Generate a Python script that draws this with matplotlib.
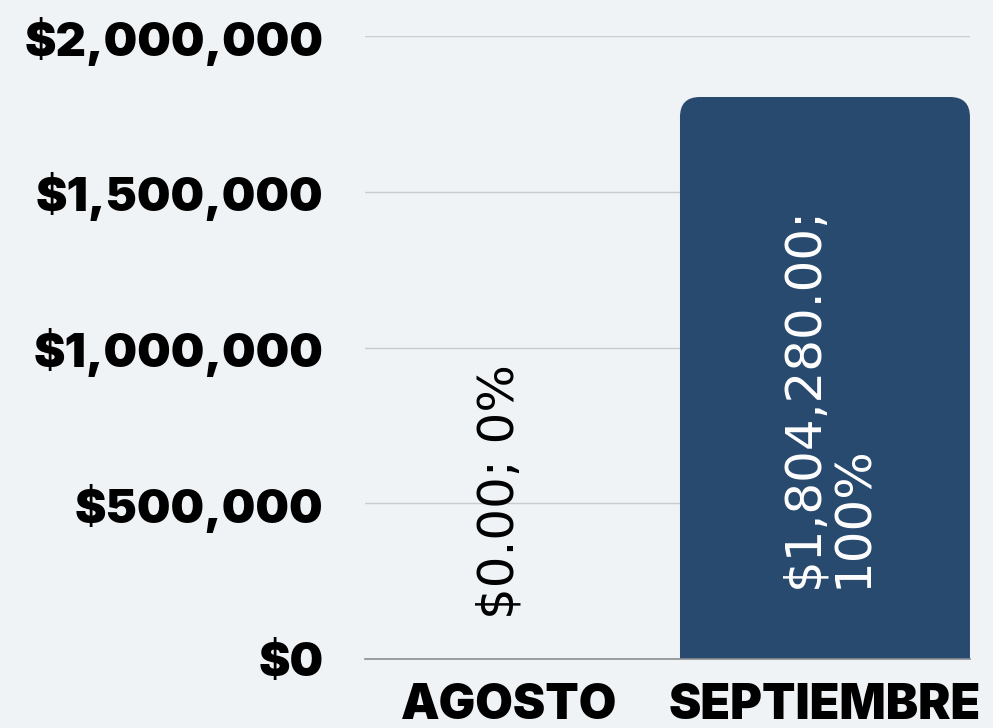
import numpy as np
import matplotlib.pyplot as plt
from matplotlib.patches import FancyBboxPatch
from matplotlib.ticker import FuncFormatter

# ------------------------------
# Data
months = ["AGOSTO", "SEPTIEMBRE"]
amounts = [0.00, 1804280.00]
shares = [0, 100]
yticks = [0, 500000, 1000000, 1500000, 2000000]

bg = "#eff3f5"
bar_color = "#284a6f"

# ------------------------------
# Figure
fig = plt.figure(figsize=(9.93, 7.28), dpi=100, facecolor=bg)
ax = fig.add_axes([0.3676, 0.0948, 0.6092, 0.8557], facecolor=bg)

ax.set_xlim(-0.456, 1.459)
ax.set_ylim(0, 2000000)

x = np.arange(len(months))
width = 0.918

# rounded-top bars (bottom corners pushed below the axis and clipped)
fig.canvas.draw()
px_x = ax.transData.transform((1, 0))[0] - ax.transData.transform((0, 0))[0]
px_y = ax.transData.transform((0, 1))[1] - ax.transData.transform((0, 0))[1]
aspect = px_x / px_y
r = 20 / px_x
for xi, val in zip(x, amounts):
    if val <= 0:
        continue
    p = FancyBboxPatch((xi - width / 2, -r * aspect * 2), width, val + r * aspect * 2,
                       boxstyle=f"round,pad=0,rounding_size={r}",
                       mutation_aspect=aspect, facecolor=bar_color, edgecolor="none",
                       zorder=3)
    ax.add_patch(p)

# data labels
for xi, val, sh in zip(x, amounts, shares):
    if val > 0:
        txt = f"${val:,.2f};\n{sh}%"
        ax.text(xi + 0.01, val * 0.466, txt, rotation=90, ha="center", va="center",
                multialignment="left", color="white", fontsize=36,
                family="DejaVu Sans", linespacing=1.05, zorder=4)
    else:
        txt = f"${val:,.2f}; {sh}%"
        ax.text(xi - 0.03, 536000, txt, rotation=90, ha="center", va="center",
                color="black", fontsize=36, family="DejaVu Sans", zorder=4)

# axes styling
ax.set_yticks(yticks)
ax.yaxis.set_major_formatter(FuncFormatter(lambda v, p: f"${v:,.0f}"))
ax.set_xticks(x)
ax.set_xticklabels(months)
for lab in ax.get_yticklabels():
    lab.set_family("Inter")
    lab.set_fontweight("black")
    lab.set_fontsize(34)
for lab in ax.get_xticklabels():
    lab.set_family("Inter")
    lab.set_fontweight("black")
    lab.set_fontsize(35)
ax.tick_params(axis="y", length=0, pad=30)
ax.tick_params(axis="x", length=0, pad=17)
ax.grid(axis="y", color="#c9cccf", linewidth=1)
ax.set_axisbelow(True)
for s in ["top", "right", "left"]:
    ax.spines[s].set_visible(False)
ax.spines["bottom"].set_color("#8a8d90")
ax.spines["bottom"].set_linewidth(1.2)
ax.spines["bottom"].set_zorder(5)

fig.savefig("out.png", dpi=100, facecolor=bg)
